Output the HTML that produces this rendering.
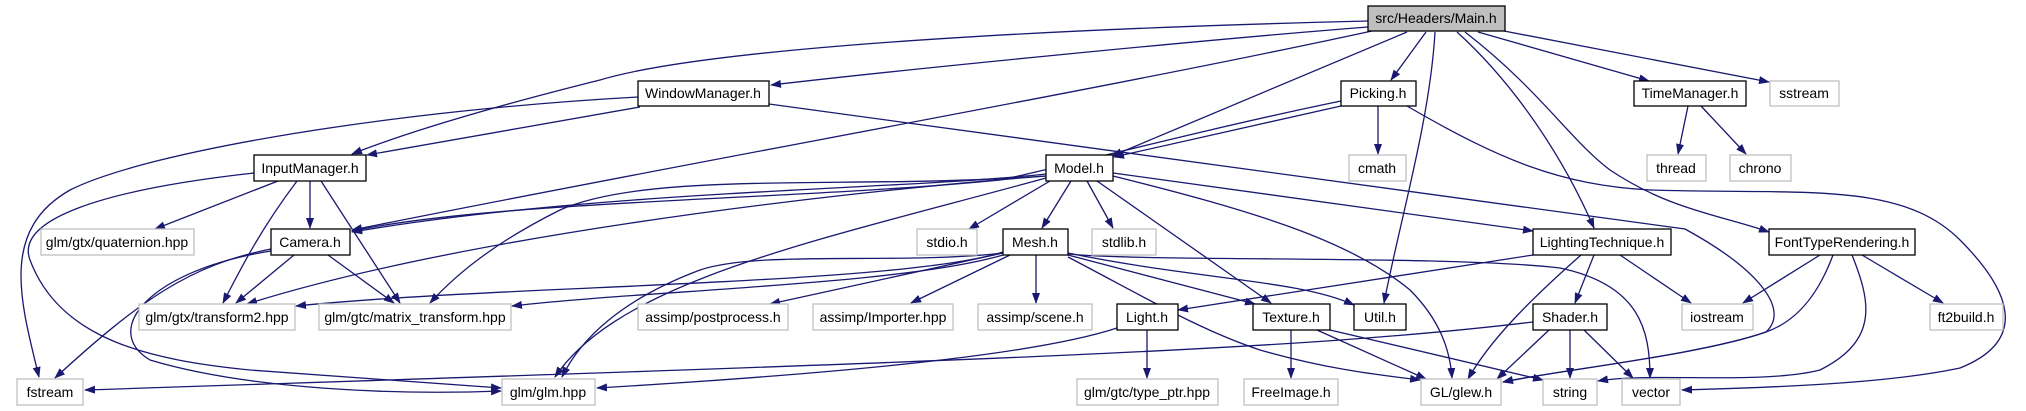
<!DOCTYPE html>
<html><head><meta charset="utf-8"><style>
html,body{margin:0;padding:0;background:#fff;}
svg{display:block;}
text{font-family:"Liberation Sans",sans-serif;font-size:14px;fill:#000;}
.e{fill:none;stroke:#191970;stroke-width:1.3;}
</style></head><body>
<svg width="2026" height="411" viewBox="0 0 2026 411" xmlns="http://www.w3.org/2000/svg">
<defs><marker id="a" markerUnits="userSpaceOnUse" markerWidth="11" markerHeight="8" refX="10" refY="4" orient="auto"><path d="M0,0 L11,4 L0,8 z" fill="#191970"/></marker></defs>
<g marker-end="url(#a)">
<path class="e" d="M1368,21 C1000,30 700,50 600,80 C480,110 400,135 352,154"/>
<path class="e" d="M1368,27 C1200,40 900,70 771,85"/>
<path class="e" d="M1372,31 C1100,90 700,160 352,230"/>
<path class="e" d="M1407,32 L1112,156"/>
<path class="e" d="M1426,32 L1391,80"/>
<path class="e" d="M1435,32 C1430,120 1400,220 1384,303"/>
<path class="e" d="M1457,32 C1510,80 1560,150 1594,228"/>
<path class="e" d="M1465,32 C1540,90 1570,140 1610,170 C1670,210 1720,215 1769,232"/>
<path class="e" d="M1478,32 L1649,81"/>
<path class="e" d="M1504,31 L1769,82"/>
<path class="e" d="M640,107 L367,155"/>
<path class="e" d="M638,97 C400,110 150,150 70,190 C0,230 20,300 39,377"/>
<path class="e" d="M769,104 L1685,229 C1760,270 1790,310 1766,332 C1700,355 1560,370 1503,382"/>
<path class="e" d="M310,181 L310,228"/>
<path class="e" d="M278,181 L155,229"/>
<path class="e" d="M297,181 C260,230 240,270 223,303"/>
<path class="e" d="M321,181 L400,303"/>
<path class="e" d="M254,173 C100,190 15,220 30,260 C60,340 150,360 250,370 C380,380 450,385 501,388"/>
<path class="e" d="M294,255 L236,303"/>
<path class="e" d="M328,255 L394,303"/>
<path class="e" d="M271,249 C190,265 140,300 55,378"/>
<path class="e" d="M271,251 C150,270 100,330 150,360 C250,390 400,395 501,391"/>
<path class="e" d="M1341,101 C1200,130 1050,170 1000,180 C800,200 500,200 352,231"/>
<path class="e" d="M1341,106 L1114,157"/>
<path class="e" d="M1378,106 L1378,154"/>
<path class="e" d="M1407,106 C1500,160 1560,185 1650,190 C1800,195 1900,180 1960,240 C2010,290 2030,340 1960,368 C1880,385 1750,388 1682,390"/>
<path class="e" d="M1046,174 C900,190 600,190 352,232"/>
<path class="e" d="M1046,176 C800,195 450,240 247,304"/>
<path class="e" d="M1046,176 C850,190 650,170 560,210 C500,240 460,270 430,303"/>
<path class="e" d="M1046,178 C820,240 620,280 555,377"/>
<path class="e" d="M1050,181 L969,229"/>
<path class="e" d="M1071,181 L1042,228"/>
<path class="e" d="M1087,181 L1113,228"/>
<path class="e" d="M1097,181 L1271,303"/>
<path class="e" d="M1113,173 L1533,231"/>
<path class="e" d="M1113,176 C1250,210 1350,240 1410,290 C1440,320 1450,350 1452,378"/>
<path class="e" d="M1036,255 L1036,303"/>
<path class="e" d="M1003,253 L770,304"/>
<path class="e" d="M1010,255 L911,303"/>
<path class="e" d="M1003,252 C900,285 500,285 296,306"/>
<path class="e" d="M1003,255 C900,285 650,290 512,306"/>
<path class="e" d="M1003,253 C900,265 760,250 700,270 C620,300 580,340 562,377"/>
<path class="e" d="M1068,255 L1255,304"/>
<path class="e" d="M1068,253 C1200,280 1300,280 1354,305"/>
<path class="e" d="M1068,257 C1150,300 1200,330 1260,350 C1330,370 1380,375 1420,380"/>
<path class="e" d="M1068,254 C1150,262 1450,255 1560,268 C1640,285 1650,330 1650,378"/>
<path class="e" d="M1533,255 L1178,310"/>
<path class="e" d="M1594,255 L1575,303"/>
<path class="e" d="M1620,255 L1691,303"/>
<path class="e" d="M1581,255 C1530,300 1490,340 1468,379"/>
<path class="e" d="M1820,255 L1743,303"/>
<path class="e" d="M1862,255 L1943,303"/>
<path class="e" d="M1833,255 C1820,290 1800,320 1766,332 C1700,355 1560,370 1503,382"/>
<path class="e" d="M1852,255 C1870,300 1880,340 1820,370 C1760,385 1650,372 1598,381"/>
<path class="e" d="M1117,328 C1050,350 900,370 597,388"/>
<path class="e" d="M1147,330 L1147,378"/>
<path class="e" d="M1291,330 L1291,378"/>
<path class="e" d="M1317,330 L1426,379"/>
<path class="e" d="M1330,330 L1543,380"/>
<path class="e" d="M1533,322 C1300,350 1000,360 85,390"/>
<path class="e" d="M1549,330 L1497,379"/>
<path class="e" d="M1570,330 L1570,378"/>
<path class="e" d="M1584,330 L1633,378"/>
<path class="e" d="M1688,106 L1678,154"/>
<path class="e" d="M1701,106 L1746,154"/>
</g>
<g stroke-width="1.3">
<rect x="1368" y="6" width="137" height="25" fill="#bfbfbf" stroke="#000"/>
<g fill="#fff" stroke="#000">
<rect x="638" y="81" width="131" height="25"/>
<rect x="1341" y="81" width="75" height="25"/>
<rect x="1634" y="81" width="112" height="25"/>
<rect x="254" y="155" width="112" height="26"/>
<rect x="1046" y="155" width="67" height="26"/>
<rect x="271" y="229" width="79" height="26"/>
<rect x="1003" y="229" width="65" height="26"/>
<rect x="1533" y="229" width="138" height="26"/>
<rect x="1769" y="229" width="146" height="26"/>
<rect x="1117" y="304" width="61" height="26"/>
<rect x="1253" y="304" width="77" height="26"/>
<rect x="1354" y="304" width="52" height="26"/>
<rect x="1533" y="304" width="74" height="26"/>
</g>
<g fill="#fff" stroke="#bfbfbf">
<rect x="1770" y="81" width="69" height="25"/>
<rect x="1349" y="155" width="57" height="26"/>
<rect x="1647" y="155" width="59" height="26"/>
<rect x="1730" y="155" width="61" height="26"/>
<rect x="41" y="229" width="153" height="26"/>
<rect x="917" y="229" width="60" height="26"/>
<rect x="1092" y="229" width="64" height="26"/>
<rect x="139" y="304" width="156" height="26"/>
<rect x="319" y="304" width="192" height="26"/>
<rect x="638" y="304" width="150" height="26"/>
<rect x="813" y="304" width="140" height="26"/>
<rect x="978" y="304" width="114" height="26"/>
<rect x="1682" y="304" width="71" height="26"/>
<rect x="1930" y="304" width="73" height="26"/>
<rect x="17" y="379" width="66" height="26"/>
<rect x="502" y="379" width="93" height="26"/>
<rect x="1077" y="379" width="141" height="26"/>
<rect x="1244" y="379" width="94" height="26"/>
<rect x="1421" y="379" width="80" height="26"/>
<rect x="1543" y="379" width="54" height="26"/>
<rect x="1622" y="379" width="58" height="26"/>
</g>
</g>
<g text-anchor="middle">
<text x="1436" y="23">src/Headers/Main.h</text>
<text x="703" y="98">WindowManager.h</text>
<text x="1378" y="98">Picking.h</text>
<text x="1690" y="98">TimeManager.h</text>
<text x="1804" y="98">sstream</text>
<text x="310" y="173">InputManager.h</text>
<text x="1079" y="173">Model.h</text>
<text x="1377" y="173">cmath</text>
<text x="1676" y="173">thread</text>
<text x="1760" y="173">chrono</text>
<text x="117" y="247">glm/gtx/quaternion.hpp</text>
<text x="310" y="247">Camera.h</text>
<text x="947" y="247">stdio.h</text>
<text x="1035" y="247">Mesh.h</text>
<text x="1124" y="247">stdlib.h</text>
<text x="1602" y="247">LightingTechnique.h</text>
<text x="1842" y="247">FontTypeRendering.h</text>
<text x="217" y="322">glm/gtx/transform2.hpp</text>
<text x="415" y="322">glm/gtc/matrix_transform.hpp</text>
<text x="713" y="322">assimp/postprocess.h</text>
<text x="883" y="322">assimp/Importer.hpp</text>
<text x="1035" y="322">assimp/scene.h</text>
<text x="1147" y="322">Light.h</text>
<text x="1291" y="322">Texture.h</text>
<text x="1380" y="322">Util.h</text>
<text x="1570" y="322">Shader.h</text>
<text x="1717" y="322">iostream</text>
<text x="1966" y="322">ft2build.h</text>
<text x="50" y="397">fstream</text>
<text x="548" y="397">glm/glm.hpp</text>
<text x="1147" y="397">glm/gtc/type_ptr.hpp</text>
<text x="1291" y="397">FreeImage.h</text>
<text x="1461" y="397">GL/glew.h</text>
<text x="1570" y="397">string</text>
<text x="1651" y="397">vector</text>
</g>
</svg>
</body></html>
